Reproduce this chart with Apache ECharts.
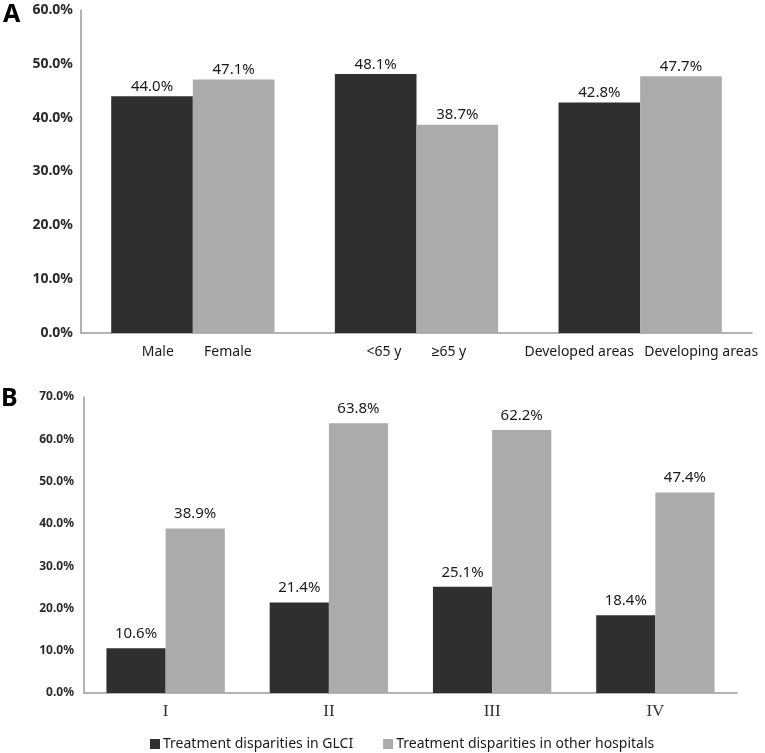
<!DOCTYPE html>
<html>
<head>
<meta charset="utf-8">
<script src="https://cdn.jsdelivr.net/npm/echarts@6/dist/echarts.min.js"></script>
<style>html,body{margin:0;padding:0;background:#fff}#c{width:765px;height:753px}</style>
</head>
<body>
<div id="c"></div>
<script>
// Panel A data
const groupsA = ['Gender', 'Age', 'Area'];
const barLabelsA = ['Male', 'Female', '<65 y', '\u226565 y', 'Developed areas', 'Developing areas'];
const darkA = [44.0, 48.1, 42.8];
const lightA = [47.1, 38.7, 47.7];
const yTicksA = { min: 0, max: 60, interval: 10 };

// Panel B data
const stagesB = ['I', 'II', 'III', 'IV'];
const glciB = [10.6, 21.4, 25.1, 18.4];
const otherB = [38.9, 63.8, 62.2, 47.4];
const yTicksB = { min: 0, max: 70, interval: 10 };
const seriesNamesB = ['Treatment disparities in GLCI', 'Treatment disparities in other hospitals'];

const DARK = '#2f2f2f', LIGHT = '#ababab', AXIS = '#9a9a9a', TXT = '#1a1a1a';
const FONT = '"Noto Sans", "Liberation Sans", sans-serif';
const pct = v => v.toFixed(1) + '%';

const halfWidths = [70, 65, 122];
const rich = {};
halfWidths.forEach((w, i) => {
  rich['l' + i] = { width: w, align: 'center', fontSize: 14, color: TXT, fontFamily: FONT };
  rich['r' + i] = { width: w, align: 'center', fontSize: 14, color: TXT, fontFamily: FONT };
});

const chart = echarts.init(document.getElementById('c'));
chart.setOption({
  animation: false,
  textStyle: { fontFamily: FONT },
  grid: [
    { left: 81, top: 10, right: 13, height: 323, containLabel: false },
    { left: 84, top: 397, right: 28, height: 296, containLabel: false }
  ],
  graphic: [
    { type: 'text', left: 3, top: 2, style: { text: 'A', font: 'bold 25px ' + FONT, fill: '#000' } },
    { type: 'text', left: 1, top: 386, style: { text: 'B', font: 'bold 25px ' + FONT, fill: '#000' } }
  ],
  legend: {
    data: seriesNamesB,
    left: 145, top: 732,
    itemWidth: 10, itemHeight: 10, itemGap: 30,
    icon: 'rect',
    textStyle: { fontSize: 14, color: TXT, fontFamily: FONT, padding: [0, 0, 0, -2] }
  },
  xAxis: [
    {
      gridIndex: 0, type: 'category', data: groupsA,
      axisLine: { lineStyle: { color: AXIS, width: 1.5 } },
      axisTick: { show: false },
      axisLabel: {
        margin: 12, interval: 0,
        formatter: (v, i) => '{l' + i + '|' + barLabelsA[2 * i] + '}{r' + i + '|' + barLabelsA[2 * i + 1] + '}',
        rich: rich
      }
    },
    {
      gridIndex: 1, type: 'category', data: stagesB,
      axisLine: { lineStyle: { color: AXIS, width: 1.5 } },
      axisTick: { show: false },
      axisLabel: { margin: 10, fontSize: 17, color: '#333', fontFamily: '"Liberation Serif", "DejaVu Serif", serif' }
    }
  ],
  yAxis: [
    {
      gridIndex: 0, type: 'value', min: yTicksA.min, max: yTicksA.max, interval: yTicksA.interval,
      axisLine: { show: true, lineStyle: { color: AXIS, width: 1.5 } },
      axisTick: { show: false }, splitLine: { show: false },
      axisLabel: { formatter: pct, fontSize: 14, fontWeight: 'bold', color: '#2a2a2a', margin: 8 }
    },
    {
      gridIndex: 1, type: 'value', min: yTicksB.min, max: yTicksB.max, interval: yTicksB.interval,
      axisLine: { show: true, lineStyle: { color: AXIS, width: 1.5 } },
      axisTick: { show: false }, splitLine: { show: false },
      axisLabel: { formatter: pct, fontSize: 12, fontWeight: 'bold', color: '#2a2a2a', margin: 10 }
    }
  ],
  series: [
    {
      type: 'bar', name: 'A dark', xAxisIndex: 0, yAxisIndex: 0, data: darkA,
      itemStyle: { color: DARK }, barGap: '0%', barCategoryGap: '27%',
      label: { show: true, position: 'top', distance: 2, formatter: p => pct(p.value), fontSize: 15, color: TXT }
    },
    {
      type: 'bar', name: 'A light', xAxisIndex: 0, yAxisIndex: 0, data: lightA,
      itemStyle: { color: LIGHT }, barGap: '0%', barCategoryGap: '27%',
      label: { show: true, position: 'top', distance: 2, formatter: p => pct(p.value), fontSize: 15, color: TXT }
    },
    {
      type: 'bar', name: seriesNamesB[0], xAxisIndex: 1, yAxisIndex: 1, data: glciB,
      itemStyle: { color: DARK }, barGap: '0%', barCategoryGap: '27.5%',
      label: { show: true, position: 'top', distance: 7, formatter: p => pct(p.value), fontSize: 15, color: TXT }
    },
    {
      type: 'bar', name: seriesNamesB[1], xAxisIndex: 1, yAxisIndex: 1, data: otherB,
      itemStyle: { color: LIGHT }, barGap: '0%', barCategoryGap: '27.5%',
      label: { show: true, position: 'top', distance: 7, formatter: p => pct(p.value), fontSize: 15, color: TXT }
    }
  ]
});
</script>
</body>
</html>
